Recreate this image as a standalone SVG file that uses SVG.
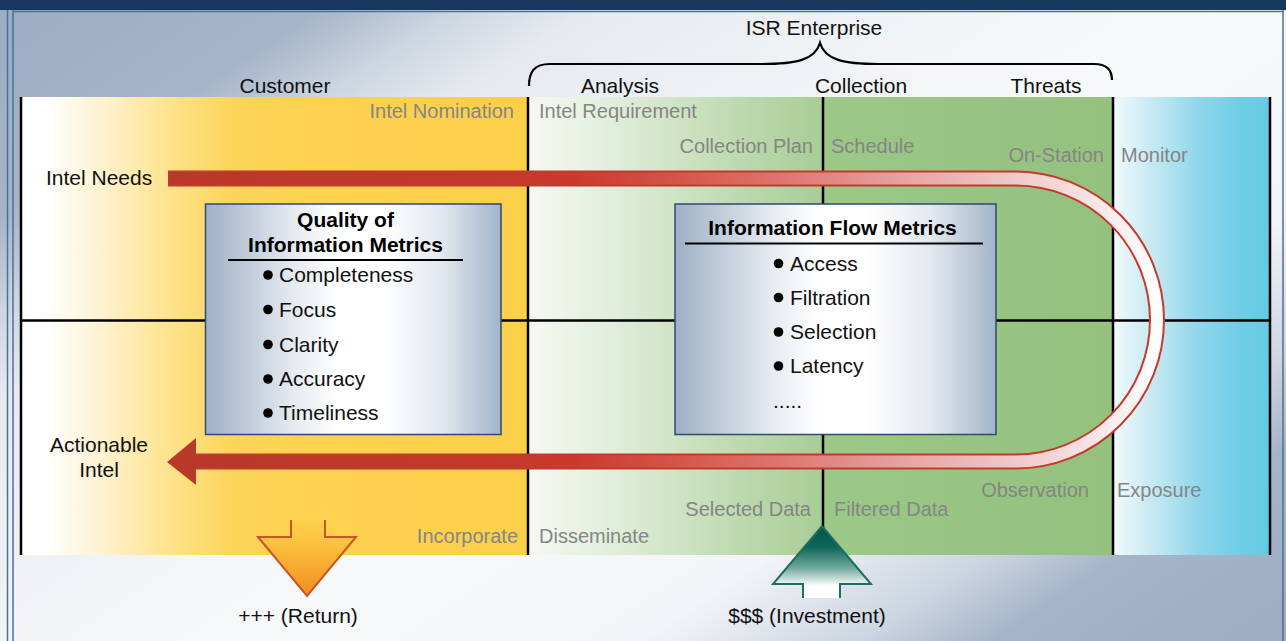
<svg xmlns="http://www.w3.org/2000/svg" width="1286" height="641" viewBox="0 0 1286 641">
  <defs>
    <linearGradient id="bgGrad" gradientUnits="userSpaceOnUse" x1="0" y1="0" x2="681" y2="1028">
      <stop offset="0" stop-color="#9BADC3"/>
      <stop offset="0.15" stop-color="#A6B5C9"/>
      <stop offset="0.21" stop-color="#CCD5E0"/>
      <stop offset="0.27" stop-color="#E6EAEF"/>
      <stop offset="0.38" stop-color="#EEF1F4"/>
      <stop offset="0.55" stop-color="#F8F9FA"/>
      <stop offset="0.72" stop-color="#F2F4F7"/>
      <stop offset="0.82" stop-color="#CBD4E0"/>
      <stop offset="0.88" stop-color="#A4B4C9"/>
      <stop offset="1" stop-color="#9DAEC4"/>
    </linearGradient>
    <linearGradient id="custGrad" gradientUnits="userSpaceOnUse" x1="21" y1="0" x2="528" y2="0">
      <stop offset="0.047" stop-color="#FFFFFF"/>
      <stop offset="0.156" stop-color="#FEF2D2"/>
      <stop offset="0.274" stop-color="#FEE595"/>
      <stop offset="0.412" stop-color="#FDD55C"/>
      <stop offset="0.55" stop-color="#FCD24F"/>
      <stop offset="1" stop-color="#FCCF4A"/>
    </linearGradient>
    <linearGradient id="anaGrad" gradientUnits="userSpaceOnUse" x1="528" y1="0" x2="823" y2="0">
      <stop offset="0" stop-color="#F5F9F3"/>
      <stop offset="0.3" stop-color="#E0EDD9"/>
      <stop offset="0.7" stop-color="#BFDAB1"/>
      <stop offset="1" stop-color="#A7CD95"/>
    </linearGradient>
    <linearGradient id="colGrad" gradientUnits="userSpaceOnUse" x1="823" y1="0" x2="1113" y2="0">
      <stop offset="0" stop-color="#9CC888"/>
      <stop offset="1" stop-color="#94C17E"/>
    </linearGradient>
    <linearGradient id="monGrad" gradientUnits="userSpaceOnUse" x1="1113" y1="0" x2="1270" y2="0">
      <stop offset="0" stop-color="#F2FAFC"/>
      <stop offset="0.25" stop-color="#C6E9F3"/>
      <stop offset="0.55" stop-color="#8FD6EA"/>
      <stop offset="0.8" stop-color="#70CEE6"/>
      <stop offset="1" stop-color="#63CAE4"/>
    </linearGradient>
    <linearGradient id="boxGrad" x1="0" y1="0" x2="1" y2="0">
      <stop offset="0" stop-color="#9FB0C6"/>
      <stop offset="0.3" stop-color="#E6EBF1"/>
      <stop offset="0.45" stop-color="#FFFFFF"/>
      <stop offset="0.6" stop-color="#FFFFFF"/>
      <stop offset="0.8" stop-color="#E2E8EF"/>
      <stop offset="1" stop-color="#A3B4C9"/>
    </linearGradient>
    <linearGradient id="flowGrad" gradientUnits="userSpaceOnUse" x1="168" y1="0" x2="1160" y2="0">
      <stop offset="0" stop-color="#B8382A"/>
      <stop offset="0.28" stop-color="#C0392A"/>
      <stop offset="0.41" stop-color="#C93A2D"/>
      <stop offset="0.53" stop-color="#D65A4E"/>
      <stop offset="0.64" stop-color="#DF7D78"/>
      <stop offset="0.74" stop-color="#E7A2A2"/>
      <stop offset="0.84" stop-color="#EFC4C5"/>
      <stop offset="0.92" stop-color="#F6DFE0"/>
      <stop offset="1" stop-color="#FFFFFF"/>
    </linearGradient>
    <linearGradient id="returnGrad" gradientUnits="userSpaceOnUse" x1="0" y1="520" x2="0" y2="596">
      <stop offset="0" stop-color="#FDD24E"/>
      <stop offset="0.3" stop-color="#FBC23F"/>
      <stop offset="1" stop-color="#F28C20"/>
    </linearGradient>
    <linearGradient id="investGrad" gradientUnits="userSpaceOnUse" x1="0" y1="526" x2="0" y2="586">
      <stop offset="0" stop-color="#00574A"/>
      <stop offset="0.35" stop-color="#0F6658"/>
      <stop offset="0.7" stop-color="#72A89E"/>
      <stop offset="1" stop-color="#FFFFFF"/>
    </linearGradient>
    <style>
      text { font-family: "Liberation Sans", Arial, sans-serif; }
      .lbl { font-size: 21px; fill: #111; }
      .mid { text-anchor: middle; }
      .end { text-anchor: end; }
      .stage { font-size: 20px; fill: #858585; }
      .title { font-size: 21px; font-weight: bold; fill: #000; text-anchor: middle; }
      .item { font-size: 21px; fill: #111; }
      .grid { stroke: #000; stroke-width: 2.5; fill: none; }
      .box { fill: url(#boxGrad); stroke: #2C4A72; stroke-width: 1.5; }
      .rule { stroke: #000; stroke-width: 2; }
      .dot { fill: #000; }
    </style>
  </defs>

  <!-- page background and frame -->
  <rect x="0" y="0" width="1286" height="641" fill="url(#bgGrad)"/>
  <rect x="0" y="0" width="1286" height="10" fill="#17375E"/>
  <line x1="7.5" y1="10" x2="7.5" y2="641" stroke="#4E6F97" stroke-width="1.5"/>
  <line x1="13" y1="10" x2="13" y2="641" stroke="#4E6F97" stroke-width="1.5"/>
  <line x1="13" y1="11.5" x2="1283" y2="11.5" stroke="#4E6F97" stroke-width="1.5"/>
  <line x1="1283" y1="10" x2="1283" y2="641" stroke="#4E6F97" stroke-width="1.5"/>

  <!-- column bands -->
  <g id="bands">
    <rect x="21" y="97" width="507" height="458" fill="url(#custGrad)"/>
    <rect x="528" y="97" width="295" height="458" fill="url(#anaGrad)"/>
    <rect x="823" y="97" width="290" height="458" fill="url(#colGrad)"/>
    <rect x="1113" y="97" width="157" height="458" fill="url(#monGrad)"/>
  </g>

  <!-- grid lines -->
  <g id="grid" class="grid">
    <line x1="21" y1="320.5" x2="1270" y2="320.5"/>
    <line x1="21" y1="97" x2="21" y2="555"/>
    <line x1="528" y1="97" x2="528" y2="555"/>
    <line x1="823" y1="97" x2="823" y2="555"/>
    <line x1="1113" y1="97" x2="1113" y2="555"/>
    <line x1="1270" y1="97" x2="1270" y2="555"/>
  </g>

  <!-- enterprise brace and column headings -->
  <g id="headings">
    <path d="M529,86 C529,72 534,64 550,64 L762,64 C796,64 815,60 820,43 C825,60 844,64 878,64 L1094,64 C1107,64 1112,70 1112,80" fill="none" stroke="#000" stroke-width="2.2"/>
    <text class="lbl mid" x="814" y="35">ISR Enterprise</text>
    <text class="lbl mid" x="285" y="93">Customer</text>
    <text class="lbl mid" x="620" y="93">Analysis</text>
    <text class="lbl mid" x="861" y="93">Collection</text>
    <text class="lbl mid" x="1046" y="93">Threats</text>
  </g>

  <!-- stage labels -->
  <g id="stages" class="stage">
    <text class="end" x="514" y="118">Intel Nomination</text>
    <text x="539" y="118">Intel Requirement</text>
    <text class="end" x="813" y="153">Collection Plan</text>
    <text x="831" y="153">Schedule</text>
    <text class="end" x="1104" y="162">On-Station</text>
    <text x="1121" y="162">Monitor</text>
    <text class="end" x="1089" y="497">Observation</text>
    <text x="1117" y="497">Exposure</text>
    <text class="end" x="811" y="516">Selected Data</text>
    <text x="834" y="516">Filtered Data</text>
    <text class="end" x="518" y="543">Incorporate</text>
    <text x="539" y="543">Disseminate</text>
  </g>

  <!-- connectors -->
  <g id="connectors">
    <g id="intel-flow">
      <path d="M168,178.5 H1015.5 A141.5,141.5 0 0 1 1015.5,461.5 H194" fill="none" stroke="#C23A2C" stroke-width="16"/>
      <path d="M169,178.5 H1015.5 A141.5,141.5 0 0 1 1015.5,461.5 H194" fill="none" stroke="url(#flowGrad)" stroke-width="12"/>
      <polygon points="167,462 196,438 196,485" fill="#B8382A"/>
    </g>
    <path id="return-arrow" d="M291,520 V537 H258 L307,596 L356,537 H325 V520" fill="url(#returnGrad)" stroke="#CB5424" stroke-width="2"/>
    <path id="investment-arrow" d="M803,598 V584 H773 L822,526 L871,584 H840 V598" fill="url(#investGrad)" stroke="#1D6D60" stroke-width="2"/>
  </g>

  <!-- side labels -->
  <g id="intel-needs"><text class="lbl" x="46" y="185">Intel Needs</text></g>
  <g id="actionable-intel">
    <text class="lbl mid" x="99" y="452">Actionable</text>
    <text class="lbl mid" x="99" y="477">Intel</text>
  </g>
  <g id="return-label"><text class="lbl mid" x="298" y="623">+++ (Return)</text></g>
  <g id="investment-label"><text class="lbl mid" x="807" y="623">$$$ (Investment)</text></g>

  <!-- quality of information metrics -->
  <g id="quality-metrics">
    <rect class="box" x="205.5" y="204" width="295.5" height="230.5"/>
    <text class="title" x="345.5" y="227">Quality of</text>
    <text class="title" x="345.5" y="252">Information Metrics</text>
    <line class="rule" x1="228" y1="260" x2="463" y2="260"/>
    <circle class="dot" cx="268" cy="275" r="4.8"/>
    <text class="item" x="279" y="282">Completeness</text>
    <circle class="dot" cx="268" cy="309.5" r="4.8"/>
    <text class="item" x="279" y="316.5">Focus</text>
    <circle class="dot" cx="268" cy="344.5" r="4.8"/>
    <text class="item" x="279" y="351.5">Clarity</text>
    <circle class="dot" cx="268" cy="379" r="4.8"/>
    <text class="item" x="279" y="386">Accuracy</text>
    <circle class="dot" cx="268" cy="413" r="4.8"/>
    <text class="item" x="279" y="420">Timeliness</text>
  </g>

  <!-- information flow metrics -->
  <g id="flow-metrics">
    <rect class="box" x="675" y="204" width="321" height="230.5"/>
    <text class="title" x="832.5" y="235">Information Flow Metrics</text>
    <line class="rule" x1="685" y1="243.5" x2="983" y2="243.5"/>
    <circle class="dot" cx="778.5" cy="263.5" r="4.8"/>
    <text class="item" x="790" y="270.5">Access</text>
    <circle class="dot" cx="778.5" cy="297.5" r="4.8"/>
    <text class="item" x="790" y="304.5">Filtration</text>
    <circle class="dot" cx="778.5" cy="332" r="4.8"/>
    <text class="item" x="790" y="339">Selection</text>
    <circle class="dot" cx="778.5" cy="366" r="4.8"/>
    <text class="item" x="790" y="373">Latency</text>
    <text class="item" x="773" y="408">.....</text>
  </g>
</svg>
